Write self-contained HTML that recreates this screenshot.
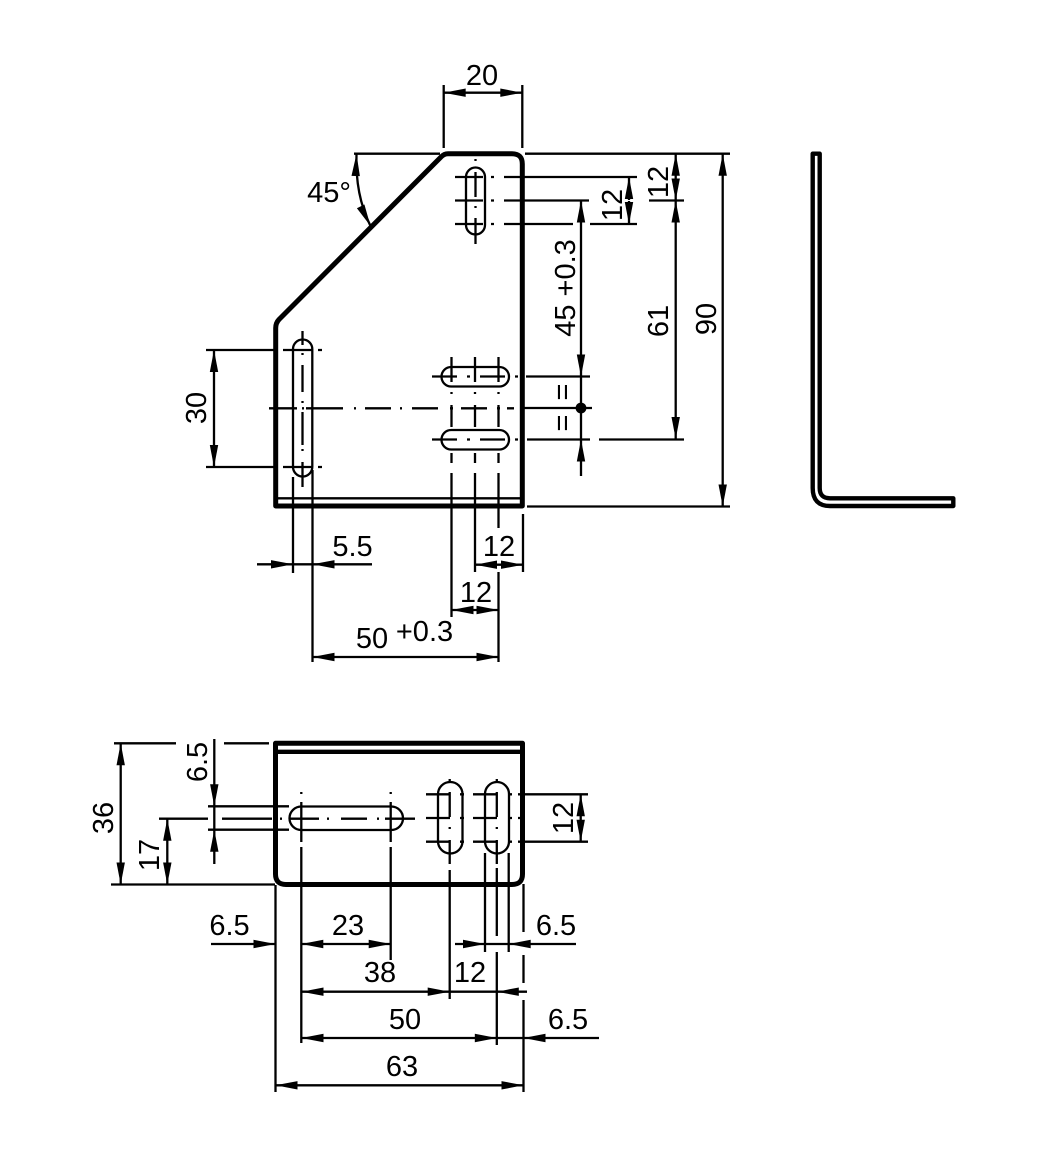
<!DOCTYPE html>
<html><head><meta charset="utf-8"><style>
html,body{margin:0;padding:0;background:#fff}
svg{display:block}
text{font-family:"Liberation Sans",Arial,sans-serif;font-size:29px;fill:#000;text-anchor:middle}
.t{fill:none;stroke:#000;stroke-width:2.3}
.o{fill:none;stroke:#000;stroke-width:5;stroke-linejoin:round}
.d{stroke:#000;stroke-width:2.3;fill:none;marker-start:url(#a);marker-end:url(#a)}
.e{stroke:#000;stroke-width:2.3;fill:none;marker-end:url(#a)}
</style></head><body>
<svg width="1063" height="1169" viewBox="0 0 1063 1169" xmlns="http://www.w3.org/2000/svg">
<defs><marker id="a" markerUnits="userSpaceOnUse" markerWidth="24" markerHeight="10" refX="0" refY="0" orient="auto-start-reverse" overflow="visible"><path d="M0 0L-22 -4.200L-22 4.200Z" fill="#000"/></marker></defs>

<!-- front view outline -->
<path class="o" d="M275.700 506V328Q275.700 323 279 319.500L441 157Q444 153.700 448 153.700H512Q522.300 153.700 522.300 164V506H275.700Z"/>
<path class="t" d="M277 498.300H521"/>
<!-- slots -->
<rect class="t" x="466" y="167.500" width="19" height="67" rx="9.500"/>
<rect class="t" x="293" y="339.500" width="19.300" height="137" rx="9.600"/>
<rect class="t" x="441.500" y="367" width="67.500" height="19.500" rx="9.700"/>
<rect class="t" x="441.500" y="430" width="67.500" height="19.500" rx="9.700"/>
<!-- center marks slot 1 -->
<path class="t" d="M475.500 159v2M475.500 172v25M475.500 206v2M475.500 218v26M455 177h28M491 177h3M455 200.500h28M491 200.500h3M455 224h28M491 224h3"/>
<!-- center marks left slot -->
<path class="t" d="M302.500 331v14M302.500 353v2M302.500 365v27M302.500 401v2M302.500 412v33M302.500 449v2M302.500 462v25M283 350h29M318 350h4M283 467h29M318 467h4"/>
<!-- horizontal center line -->
<path class="t" d="M269 408.300h28M302 408.300h2M306 408.300h37M354 408.300h2M365 408.300h26M400 408.300h2M412 408.300h26M450 408.300h3M461 408.300h26M497 408.300h3M507 408.300h7"/>
<!-- horizontal slot marks -->
<path class="t" d="M432 376.500h25M467 376.500h3M480 376.500h25M515 376.500h3M432 439.500h25M467 439.500h3M480 439.500h25M515 439.500h3"/>
<path class="t" d="M451.500 357v25M451.500 392v2M451.500 405v22M451.500 453v10M451.500 473V617M475 357v25M475 392v2M475 405v22M475 453v10M475 473V572M498.500 357v25M498.500 392v2M498.500 405v22M498.500 453v10M498.500 473V528M498.500 572V662"/>
<!-- 20 -->
<path class="t" d="M443.700 85V148M522.300 85V148"/>
<path class="d" d="M443.700 92.700H522.300"/>
<text x="482" y="85">20</text>
<!-- 45 deg -->
<path class="t" d="M354 153.700H440M525 153.700H730"/>
<path class="d" d="M356.500 154Q355 195 370.500 226"/>
<text x="329" y="202">45°</text>
<!-- right dims -->
<path class="t" d="M504 177H637M504 200.500H589M649 200.500H684M504 224H573M590 224H637"/>
<path class="e" d="M629 200V177"/>
<path class="e" d="M629 201V224"/>
<path class="d" d="M675.700 153.700V200.500"/>
<path class="d" d="M675.700 200.500V439"/>
<path class="d" d="M722.700 153.700V506.500"/>
<path class="t" d="M526 376.500H590M524 408H592M527 439.500H590M599 439.500H684M527 506.500H730"/>
<path class="d" d="M581 200.500V376.500"/>
<path class="e" d="M581 476V439.500"/>
<path class="t" d="M581 376V408V440"/>
<circle cx="581" cy="408" r="5.400" fill="#000"/>
<text transform="translate(575,288) rotate(-90)">45 +0.3</text>
<text transform="translate(668,321) rotate(-90)">61</text>
<text transform="translate(716,319) rotate(-90)">90</text>
<text transform="translate(668,182) rotate(-90)">12</text>
<text transform="translate(622,205) rotate(-90)">12</text>
<text transform="translate(572,392) rotate(-90)">=</text>
<text transform="translate(572,423) rotate(-90)">=</text>
<!-- 30 -->
<path class="t" d="M206 350H275M206 467H275"/>
<path class="d" d="M214 350V467"/>
<text transform="translate(206,408) rotate(-90)">30</text>
<!-- bottom dims -->
<path class="t" d="M293 477V573M312.500 470V662M523 514V572M293 564.300H313"/>
<path class="e" d="M257 564.300H293"/>
<path class="e" d="M372 564.300H312.500"/>
<text x="352.500" y="556">5.5</text>
<path class="d" d="M475 564.700H523"/>
<text x="499" y="556">12</text>
<path class="d" d="M451.500 610H498.500"/>
<text x="476" y="602">12</text>
<path class="d" d="M312.500 657H498.500"/>
<text x="372" y="648">50</text>
<text x="424.500" y="641">+0.3</text>

<!-- side view -->
<path d="M812.700 153.700H819.700V488Q819.700 498.300 830 498.300H953.300V506H830Q812.700 506 812.700 488Z" fill="none" stroke="#000" stroke-width="4.400" stroke-linejoin="round"/>

<!-- lower view -->
<path class="o" d="M275.500 743.300H522.500V874Q522.500 884.500 512 884.500H286Q275.500 884.500 275.500 874Z"/>
<path d="M277 751.800H521" fill="none" stroke="#000" stroke-width="4.400"/>
<rect class="t" x="289.500" y="806.500" width="113.500" height="23.500" rx="11.700"/>
<rect class="t" x="438" y="782" width="24.500" height="71.500" rx="12.200"/>
<rect class="t" x="485" y="782" width="24" height="71.500" rx="12"/>
<!-- lower marks -->
<path class="t" d="M114 743.300H176M224 743.300H269M111 884.500H275M159 818.700H208M222 818.700H272M280 818.700h2M290 818.700h29M327 818.700h2M341 818.700h26M377 818.700h2M385 818.700h30M208 806.300H289M208 829.700H289"/>
<path class="d" d="M120.700 743.300V884.500"/>
<path class="d" d="M167.300 818.700V884.500"/>
<path class="e" d="M214.300 739V806.300"/>
<path class="e" d="M214.300 864V829.700"/>
<path class="t" d="M214.300 806V830"/>
<text transform="translate(207,762) rotate(-90)">6.5</text>
<text transform="translate(113,818) rotate(-90)">36</text>
<text transform="translate(159,855) rotate(-90)">17</text>
<path class="t" d="M301.300 792v2M301.300 802v40M301.300 847V1043M390.700 792v2M390.700 802v40M390.700 847V960M275.500 885V1092"/>
<path class="t" d="M426 794.300h24M460 794.300h4M473 794.300h24M508 794.300h4M518 794.300H588M426 818h24M460 818h4M473 818h24M508 818h4M518 818h4M426 841.700h24M460 841.700h4M473 841.700h24M508 841.700h4M518 841.700H588"/>
<path class="t" d="M449.700 779v3M449.700 792v25M449.700 827v2M449.700 840v24M449.700 870V999M496.800 779v3M496.800 792v25M496.800 827v2M496.800 840v24M496.800 868V936M496.800 952V1045M485 853V952M508.700 853V952M523.500 884V932M523.500 955V983M523.500 1000V1092"/>
<path class="e" d="M580.700 818V794.300"/>
<path class="e" d="M580.700 818V841.700"/>
<text transform="translate(573,818) rotate(-90)">12</text>
<path class="e" d="M211 944H275.500"/>
<path class="d" d="M301.300 944H390.700"/>
<text x="229.500" y="935">6.5</text>
<text x="348" y="935">23</text>
<path class="e" d="M455 944H485"/>
<path class="e" d="M576 944H508.700"/>
<path class="t" d="M485 944H509"/>
<text x="556" y="935">6.5</text>
<path class="d" d="M301.500 991.700H449.700"/>
<path class="e" d="M527 991.700H496.800"/>
<path class="t" d="M450 991.700H497"/>
<text x="380" y="982">38</text>
<text x="470" y="982">12</text>
<path class="d" d="M301.500 1038H496.800"/>
<path class="e" d="M599 1038H523.500"/>
<path class="t" d="M497 1038H524"/>
<text x="405" y="1029">50</text>
<text x="568" y="1029">6.5</text>
<path class="d" d="M275.500 1085.300H523.500"/>
<text x="402" y="1076">63</text>
</svg>
</body></html>
